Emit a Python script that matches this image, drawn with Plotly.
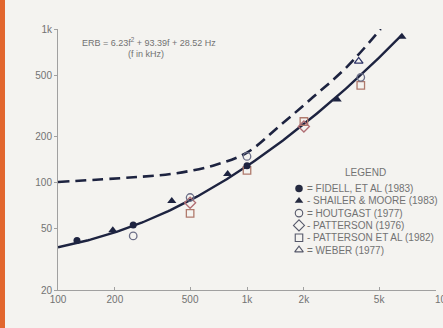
import numpy as np
import plotly.graph_objects as go

# ---- data -------------------------------------------------------------
# ERB fit: ERB = a*f^2 + b*f + c  (f in kHz)
erb_coef = [6.23, 93.39, 28.52]
erb_f_min_hz, erb_f_max_hz = 100, 6600

# classical critical-band curve (dashed)
cb_freq = [100, 240, 400, 660, 1000, 1500, 2230, 3370, 5100]
cb_bw = [101, 108, 114, 129, 157, 236, 359, 565, 1000]

# measured points
fidell_f = [126, 250, 1000]
fidell_v = [42, 53, 129]
shailer_f = [195, 400, 790, 3000, 6600]
shailer_v = [49, 76, 114, 348, 890]
houtgast_f = [250, 500, 1000, 4000]
houtgast_v = [45, 80, 148, 485]
patterson76_f = [500, 2000]
patterson76_v = [74, 232]
patterson82_f = [500, 1000, 2000, 4000]
patterson82_v = [63, 120, 250, 430]
weber_f = [3900]
weber_v = [617]

legend_labels = [
    "= FIDELL, ET AL (1983)",
    "- SHAILER & MOORE (1983)",
    "= HOUTGAST (1977)",
    "- PATTERSON (1976)",
    "- PATTERSON ET AL (1982)",
    "= WEBER (1977)",
]

x_tickvals = [100, 200, 500, 1000, 2000, 5000]
x_ticktext = ["100", "200", "500", "1k", "2k", "5k"]
x_edge_label = "10k"
y_tickvals = [20, 50, 100, 200, 500, 1000]
y_ticktext = ["20", "50", "100", "200", "500", "1k"]

# ---- styling ----------------------------------------------------------
W, H = 443, 328
L, R, T, B = 58, 7, 29, 38
PW = W - L - R
BG = "#f4f3f0"
INK = "#1d2340"
TXT = "#727272"
FONT = "Liberation Sans Narrow, Arial Narrow, sans-serif"

f_khz = np.geomspace(erb_f_min_hz, erb_f_max_hz, 160) / 1000.0
erb = erb_coef[0] * f_khz**2 + erb_coef[1] * f_khz + erb_coef[2]

fig = go.Figure()

fig.add_trace(go.Scatter(
    x=cb_freq, y=cb_bw, mode="lines",
    line=dict(color=INK, width=2.6, dash="11px,6px", shape="spline", smoothing=1.0),
    hoverinfo="skip"))
fig.add_trace(go.Scatter(
    x=f_khz * 1000, y=erb, mode="lines", line=dict(color=INK, width=2.4), hoverinfo="skip"))


def pts(fx, fy, symbol, color, size, lw=1.3):
    fig.add_trace(go.Scatter(
        x=fx, y=fy, mode="markers",
        marker=dict(symbol=symbol, size=size, color=color, line=dict(color=color, width=lw))))


pts(patterson82_f, patterson82_v, "square-open", "#b07a6c", 7.5)
pts(patterson76_f, patterson76_v, "diamond-open", "#b06e74", 8.5)
pts(houtgast_f, houtgast_v, "circle-open", "#6c6f88", 7.5)
pts(weber_f, weber_v, "triangle-up-open", "#2c3266", 7.5)
pts(fidell_f, fidell_v, "circle", INK, 7, lw=0)
pts(shailer_f, shailer_v, "triangle-up", INK, 8, lw=0)

# ---- legend (drawn on a pixel-space overlay) ---------------------------
leg_syms = ["circle", "triangle-up", "circle-open", "diamond-open", "square-open", "triangle-up-open"]
leg_cols = ["#252a40", "#252a40", "#55586a", "#55586a", "#55586a", "#55586a"]
leg_x = 299
leg_y0, leg_dy = 188.5, 12.3
for i, sym in enumerate(leg_syms):
    yy = leg_y0 + i * leg_dy
    fig.add_trace(go.Scatter(
        x=[leg_x], y=[yy], xaxis="x2", yaxis="y2", mode="markers",
        marker=dict(symbol=sym, size=8.5 if "diamond" in sym else 7.5, color=leg_cols[i],
                    line=dict(color=leg_cols[i], width=1.1 if "open" in sym else 0)),
        hoverinfo="skip"))
    fig.add_annotation(x=leg_x + 6, y=yy, xref="x2", yref="y2", text=legend_labels[i],
                       showarrow=False, xanchor="left", yanchor="middle",
                       font=dict(family=FONT, size=10, color=TXT))

fig.add_annotation(x=365, y=172, xref="x2", yref="y2", text="LEGEND", showarrow=False,
                   xanchor="center", yanchor="middle", font=dict(family=FONT, size=10, color=TXT))

# formula text
fig.add_annotation(x=80, y=42, xref="x2", yref="y2",
                   text="ERB = 6.23f<sup>2</sup> + 93.39f + 28.52 Hz", showarrow=False,
                   xanchor="left", yanchor="middle", font=dict(family=FONT, size=9, color=TXT))
fig.add_annotation(x=146, y=54, xref="x2", yref="y2", text="(f in kHz)", showarrow=False,
                   xanchor="center", yanchor="middle", font=dict(family=FONT, size=9, color=TXT))

# axis titles
fig.add_annotation(x=22, y=155, xref="x2", yref="y2", text="EQUIVALENT RECTANGULAR BANDWIDTH \u2014 Hz",
                   textangle=-90, showarrow=False, xanchor="center", yanchor="middle",
                   font=dict(family=FONT, size=12.5, color=TXT))
fig.add_annotation(x=245, y=312, xref="x2", yref="y2", text="CENTER FREQUENCY \u2014 Hz",
                   showarrow=False, xanchor="center", yanchor="middle",
                   font=dict(family=FONT, size=12.5, color=TXT))

# last frequency label runs off the right edge of the page
fig.add_annotation(x=4, y=0, xref="x", yref="paper", text=x_edge_label, showarrow=False,
                   xanchor="left", yanchor="top", xshift=-3, yshift=-2,
                   font=dict(family=FONT, size=10, color=TXT))

# orange film edge on the left
fig.add_shape(type="rect", xref="paper", yref="paper",
              x0=(0 - L) / PW, x1=(5 - L) / PW, y0=-B / (H - T - B), y1=1 + T / (H - T - B),
              fillcolor="#e2662e", line=dict(width=0), layer="below")

fig.update_layout(
    width=W, height=H, margin=dict(l=L, r=R, t=T, b=B),
    paper_bgcolor=BG, plot_bgcolor=BG, showlegend=False,
    xaxis=dict(type="log", range=[2, 4], tickvals=x_tickvals, ticktext=x_ticktext,
               showgrid=False, zeroline=False, showline=True, linecolor="#a0a0a0", linewidth=1,
               ticks="inside", ticklen=3, tickcolor="#a0a0a0",
               tickfont=dict(family=FONT, size=10, color=TXT)),
    yaxis=dict(type="log", range=[np.log10(20), 3], tickvals=y_tickvals, ticktext=y_ticktext,
               showgrid=False, zeroline=False, showline=True, linecolor="#a0a0a0", linewidth=1,
               ticks="outside", ticklen=3, tickcolor="#a0a0a0",
               tickfont=dict(family=FONT, size=10, color=TXT)),
    xaxis2=dict(overlaying="x", range=[L, W - R], visible=False, fixedrange=True),
    yaxis2=dict(overlaying="y", range=[H - B, T], visible=False, fixedrange=True),
)

fig.write_html("out.html")
